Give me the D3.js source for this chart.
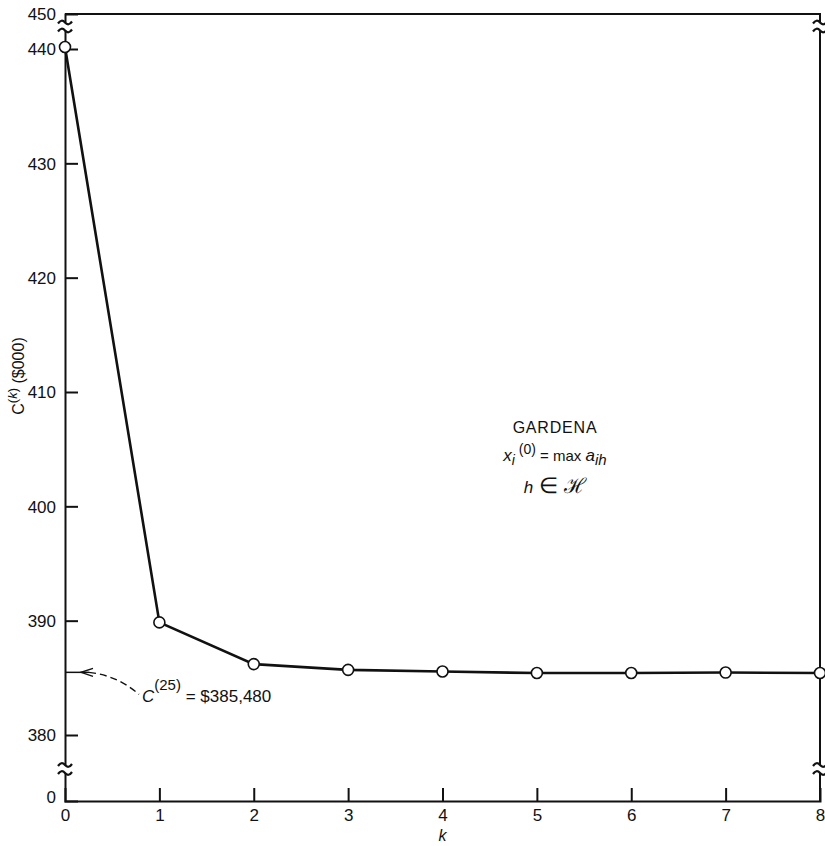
<!DOCTYPE html>
<html>
<head>
<meta charset="utf-8">
<title>Gardena cost by iteration</title>
<script src="https://cdn.jsdelivr.net/npm/d3@7"></script>
<style>
  body { margin: 0; background: #fff; }
  svg text { font-family: "Liberation Sans", Arial, sans-serif; fill: #111; }
</style>
</head>
<body>
<div id="chart"></div>
<script>
// iteration k and cost C(k) in $000
var iterations = [0, 1, 2, 3, 4, 5, 6, 7, 8];
var costs = [440.57, 389.85, 386.2, 385.7, 385.55, 385.42, 385.42, 385.46, 385.42];
var yTicks = [0, 380, 390, 400, 410, 420, 430, 440, 450];
var xTicks = [0, 1, 2, 3, 4, 5, 6, 7, 8];
var finalCost = 385.48;

var W = 825, H = 846;
var svg = d3.select("#chart").append("svg").attr("width", W).attr("height", H);

var x = d3.scaleLinear().domain([0, 8]).range([65, 820]);
// broken axis: 0..380 and 440..450 squeezed
var y = d3.scaleLinear().domain([0, 380, 440, 450]).range([801, 735, 49, 14]);

// frame: top and right
svg.append("path")
  .attr("d", "M" + x(0) + "," + y(450) + "H" + x(8) + "V" + y(0))
  .attr("fill", "none").attr("stroke", "#111").attr("stroke-width", 2);

var yAxis = svg.append("g")
  .attr("transform", "translate(" + x(0) + ",0)")
  .call(d3.axisLeft(y).tickValues(yTicks).tickSize(-13).tickPadding(9).tickFormat(d3.format("d")));
yAxis.selectAll(".tick line").filter(function(d){ return d === 0 || d === 450; }).remove();

var xAxis = svg.append("g")
  .attr("transform", "translate(0," + y(0) + ")")
  .call(d3.axisBottom(x).tickValues(xTicks).tickSize(-13).tickPadding(6));
xAxis.selectAll(".tick line").filter(function(d){ return d === 0 || d === 8; }).remove();

[yAxis, xAxis].forEach(function(a){
  a.select(".domain").attr("stroke", "#111").attr("stroke-width", 2);
  a.selectAll(".tick line").attr("stroke", "#111").attr("stroke-width", 2);
  a.selectAll(".tick text").attr("font-size", 17).attr("fill", "#111")
    .attr("font-family", "Liberation Sans, Arial, sans-serif");
});
yAxis.selectAll(".tick text").attr("dy", "0.35em");
yAxis.selectAll(".tick text").filter(function(d){ return d === 0; }).attr("dy", "0.1em");
xAxis.selectAll(".tick text").attr("dy", "0.85em");

// break marks on both vertical sides
function breakMark(cx, cy) {
  var g = svg.append("g");
  g.append("rect").attr("x", cx - 3).attr("y", cy - 4).attr("width", 6).attr("height", 8).attr("fill", "#fff");
  [-4, 4].forEach(function(o){
    g.append("path")
      .attr("d", "M" + (cx - 7) + "," + (cy + o + 1) + "q3.5,-5 7,-1t7,-1")
      .attr("fill", "none").attr("stroke", "#111").attr("stroke-width", 2.2);
  });
}
var breakTop = (y(450) + y(440)) / 2 - 5;
var breakBot = (y(380) + y(0)) / 2 + 1;
breakMark(x(0), breakTop); breakMark(x(0), breakBot);
breakMark(x(8), breakTop); breakMark(x(8), breakBot);

// series
var pts = iterations.map(function(k, i){ return [k, costs[i]]; });
svg.append("path")
  .datum(pts)
  .attr("d", d3.line().x(function(d){ return x(d[0]); }).y(function(d){ return y(d[1]); }))
  .attr("fill", "none").attr("stroke", "#111").attr("stroke-width", 2.6);
svg.selectAll("circle.pt").data(pts).enter().append("circle")
  .attr("class", "pt")
  .attr("cx", function(d){ return x(d[0]); })
  .attr("cy", function(d){ return y(d[1]); })
  .attr("r", 5.5)
  .attr("fill", "#fff").attr("stroke", "#111").attr("stroke-width", 1.6);

// annotation arrow to C(25)
var ay = y(finalCost);
svg.append("path")
  .attr("d", "M" + (x(0) + 1) + "," + ay + "H" + (x(0) + 24))
  .attr("stroke", "#111").attr("stroke-width", 1.5);
svg.append("path")
  .attr("d", "M" + (x(0) + 24) + "," + ay + "Q" + (x(0) + 52) + "," + (ay + 3) + " " + (x(0) + 74) + "," + (ay + 22))
  .attr("fill", "none").attr("stroke", "#111").attr("stroke-width", 1.4).attr("stroke-dasharray", "7,4");
svg.append("path")
  .attr("d", "M" + (x(0) + 28) + "," + (ay - 4) + "L" + (x(0) + 16) + "," + ay + "L" + (x(0) + 28) + "," + (ay + 4))
  .attr("fill", "none").attr("stroke", "#111").attr("stroke-width", 1.4);
var ann = svg.append("text").attr("x", x(0) + 77).attr("y", ay + 30).attr("font-size", 17);
ann.append("tspan").attr("font-style", "italic").text("C");
ann.append("tspan").attr("dy", -12).attr("font-size", 15).text("(25)");
ann.append("tspan").attr("dy", 12).text(" = $385,480");

// y title
var yt = svg.append("text")
  .attr("transform", "translate(24," + 376 + ") rotate(-90)")
  .attr("text-anchor", "middle").attr("font-size", 16).attr("fill", "#111");
yt.append("tspan").text("C");
yt.append("tspan").attr("dy", -7).attr("font-size", 13).text("(");
yt.append("tspan").attr("font-size", 13).attr("font-style", "italic").text("k");
yt.append("tspan").attr("font-size", 13).text(")");
yt.append("tspan").attr("dy", 7).text(" ($000)");

// x title
svg.append("text").attr("x", x(4)).attr("y", 841).attr("text-anchor", "middle")
  .attr("font-size", 16).attr("font-style", "italic").text("k");

// legend block
var lx = 555;
svg.append("text").attr("x", lx).attr("y", 433).attr("text-anchor", "middle").attr("font-size", 16)
  .attr("letter-spacing", 0.8).text("GARDENA");
var l2 = svg.append("text").attr("x", lx).attr("y", 461).attr("text-anchor", "middle").attr("font-size", 17);
l2.append("tspan").attr("font-style", "italic").text("x");
l2.append("tspan").attr("dy", 4).attr("font-size", 14).attr("font-style", "italic").text("i");
l2.append("tspan").attr("dy", -11).attr("font-size", 14).text(" (0)");
l2.append("tspan").attr("dy", 7).attr("font-size", 15).text(" = max  ");
l2.append("tspan").attr("font-style", "italic").text("a");
l2.append("tspan").attr("dy", 4).attr("font-size", 15).attr("font-style", "italic").text("ih");
var l3 = svg.append("text").attr("x", lx).attr("y", 493).attr("text-anchor", "middle").attr("font-size", 17);
l3.append("tspan").attr("font-style", "italic").text("h");
l3.append("tspan").attr("font-size", 22).text(" \u2208 ");
l3.append("tspan").attr("font-family", "DejaVu Serif, serif").attr("font-size", 21).text("\u210B");
</script>
</body>
</html>
